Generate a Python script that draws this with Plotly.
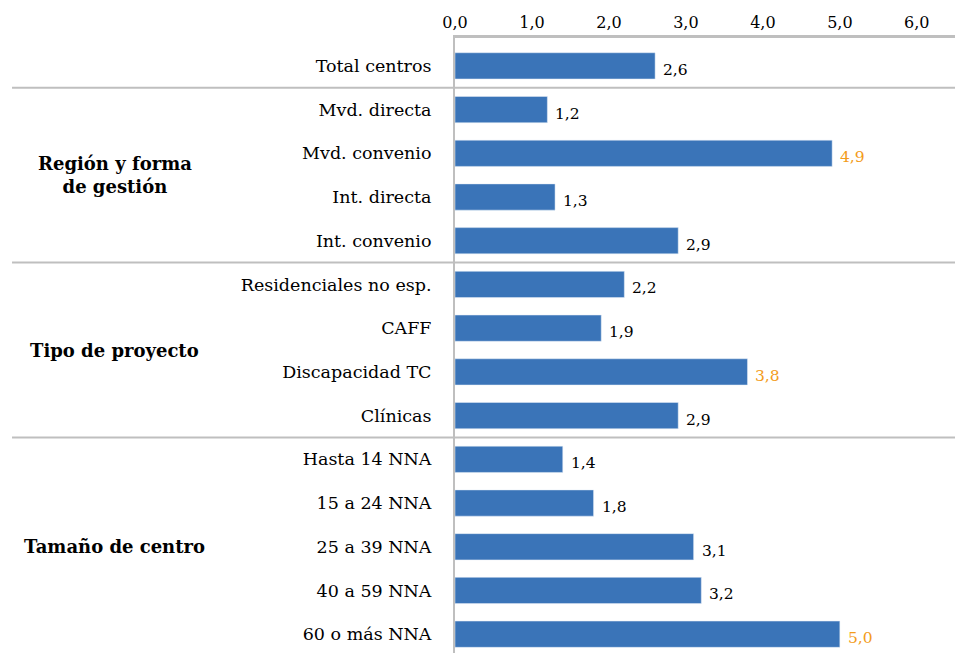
import plotly.graph_objects as go

# categories top to bottom and their values
categories = [
    "Total centros",
    "Mvd. directa", "Mvd. convenio", "Int. directa", "Int. convenio",
    "Residenciales no esp.", "CAFF", "Discapacidad TC", "Clínicas",
    "Hasta 14 NNA", "15 a 24 NNA", "25 a 39 NNA", "40 a 59 NNA", "60 o más NNA",
]
values = [2.6, 1.2, 4.9, 1.3, 2.9, 2.2, 1.9, 3.8, 2.9, 1.4, 1.8, 3.1, 3.2, 5.0]
highlight = [False, False, True, False, False, False, False, True, False,
             False, False, False, False, True]

# group labels with the rows they span
groups = [
    ("Región y forma<br>de gestión", 1, 4),
    ("Tipo de proyecto", 5, 8),
    ("Tamaño de centro", 9, 13),
]

x_ticks = [0, 1, 2, 3, 4, 5, 6]

FONT = "DejaVu Serif"
BAR = "#3A74B8"
ORANGE = "#F39C1B"
GRID = "#BFBFBF"

rows = list(range(len(categories)))

fig = go.Figure()
fig.add_trace(go.Bar(
    x=values, y=rows, orientation="h",
    marker=dict(color=BAR), width=0.6,
    hoverinfo="skip",
))

# value labels beside the bars
for r, v, h in zip(rows, values, highlight):
    fig.add_annotation(
        x=v, y=r, text=f"{v:.1f}".replace(".", ","),
        xanchor="left", yanchor="middle", showarrow=False,
        xshift=6, yshift=-4,
        font=dict(family=FONT, size=15.5, color=ORANGE if h else "#000000"),
    )

# bold group labels
for label, a, b in groups:
    fig.add_annotation(
        x=-0.67, xref="paper", y=(a + b) / 2, yref="y",
        text=f"<b>{label}</b>", showarrow=False, align="center",
        xanchor="center", yanchor="middle",
        font=dict(family=FONT, size=18, color="#000000"),
    )

# separators between groups
for _, a, _b in groups:
    fig.add_shape(
        type="line", xref="paper", yref="y",
        x0=-0.872, x1=1, y0=a - 0.5, y1=a - 0.5,
        line=dict(color=GRID, width=2),
    )

# top border of the plot box
fig.add_shape(type="line", xref="paper", yref="paper",
              x0=0, x1=1, y0=1, y1=1, line=dict(color=GRID, width=2))

# page body has an 8px margin, so the figure is 8px smaller
fig.update_layout(
    width=955, height=645,
    margin=dict(l=447, r=0, t=29, b=0),
    plot_bgcolor="white", paper_bgcolor="white",
    showlegend=False,
    font=dict(family=FONT, color="#000000"),
    xaxis=dict(
        side="top", range=[0, 6.6], tickvals=x_ticks,
        ticktext=[f"{t:.1f}".replace(".", ",") for t in x_ticks],
        showgrid=False, zeroline=False, automargin=False,
        showline=True, linecolor=GRID, linewidth=2,
        ticks="", tickfont=dict(family=FONT, size=16),
        ticklabelstandoff=1,
    ),
    yaxis=dict(
        range=[13.43, -0.66], tickvals=rows, ticktext=categories,
        showgrid=False, zeroline=False, automargin=False,
        showline=True, linecolor=GRID, linewidth=2,
        ticks="", tickfont=dict(family=FONT, size=17.5),
        ticklabelstandoff=18,
    ),
)

fig.write_html("out.html")
